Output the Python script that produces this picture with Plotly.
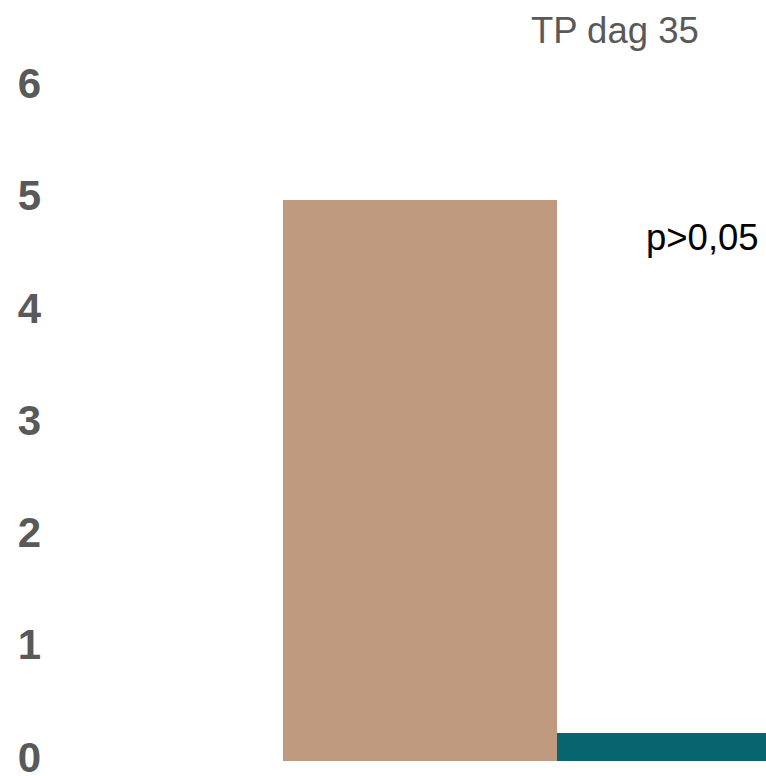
import plotly.graph_objects as go

categories = ["Groep A", "Groep B"]
values = [5.0, 0.25]
bar_colors = ["#BF9A7F", "#076570"]
tick_vals = [0, 1, 2, 3, 4, 5, 6]
tick_text = ["0", "1", "2", "3", "4", "5", "6"]
title_text = "TP dag 35"
p_text = "p>0,05"

FONT = "Liberation Sans, Arial, sans-serif"

fig = go.Figure()
fig.add_trace(go.Bar(x=categories, y=values, marker=dict(color=bar_colors, line=dict(width=0)),
                     showlegend=False, hoverinfo="skip"))

fig.update_layout(
    width=766, height=792,
    margin=dict(l=48, r=0, t=20, b=31),
    plot_bgcolor="white", paper_bgcolor="white",
    bargap=0,
    font=dict(family=FONT),
    xaxis=dict(range=[-1.358, 1.263], showticklabels=False, showgrid=False,
               zeroline=False, showline=False, ticks=""),
    yaxis=dict(range=[0, 6.6], tickvals=tick_vals, ticktext=tick_text,
               showgrid=False, zeroline=False, showline=False, ticks="",
               ticklabeloverflow="allow", ticklabelstandoff=6, ticklabelshift=-4,
               tickfont=dict(size=42, color="#595959", family=FONT, weight="bold")),
)
fig.add_annotation(text=title_text, xref="paper", yref="paper", x=0.789, y=0.986,
                   xanchor="center", yanchor="middle",
                   showarrow=False, font=dict(size=36.5, color="#595959"))
fig.add_annotation(text=p_text, xref="paper", yref="paper", x=0.911, y=0.707,
                   xanchor="center", yanchor="middle",
                   showarrow=False, font=dict(size=36.5, color="black"))
fig.write_html("out.html", config={"displayModeBar": False},
               post_script="document.body.style.margin='0';document.body.style.overflow='hidden';")
